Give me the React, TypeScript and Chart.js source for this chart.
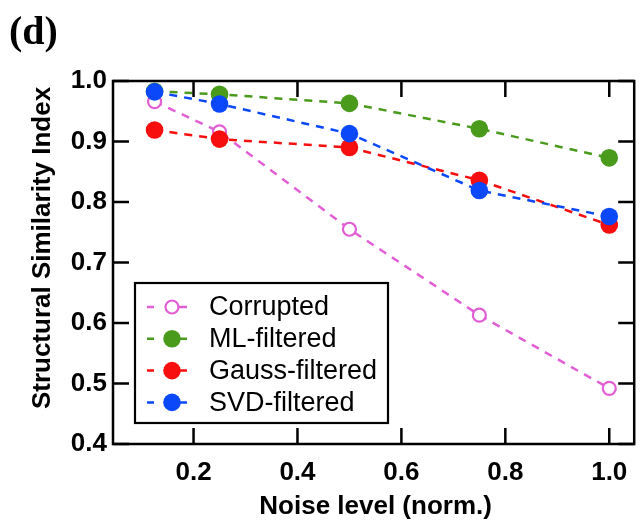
import React, { useEffect, useRef } from "react";
import { Chart, registerables } from "chart.js";

Chart.register(...registerables);

// Normalised noise levels at which each filter was evaluated
const noiseLevels = [0.125, 0.25, 0.5, 0.75, 1.0];

// Structural similarity index per series
const corrupted = [0.966, 0.916, 0.755, 0.613, 0.492];
const mlFiltered = [0.983, 0.978, 0.963, 0.921, 0.873];
const gaussFiltered = [0.919, 0.904, 0.89, 0.836, 0.762];
const svdFiltered = [0.982, 0.962, 0.913, 0.819, 0.776];

const seriesNames = ["Corrupted", "ML-filtered", "Gauss-filtered", "SVD-filtered"];
const seriesColors = ["#e25ed5", "#4a9a1c", "#f70f0f", "#0a48fa"];

const xTickValues = [0.2, 0.4, 0.6, 0.8, 1.0];
const yTickValues = [0.4, 0.5, 0.6, 0.7, 0.8, 0.9, 1.0];

const panelLabel = "(d)";
const xTitle = "Noise level (norm.)";
const yTitle = "Structural Similarity Index";

const SANS = '"Liberation Sans", Arial, sans-serif';
const SERIF = '"Liberation Serif", "Times New Roman", serif';
const TICK_LEN = 16;

const toPoints = (vals: number[]) => noiseLevels.map((x, i) => ({ x, y: vals[i] }));

// Box, mirrored inward tick marks, axis titles and panel label
const framePlugin = {
  id: "frame",
  afterDatasetsDraw(chart: any) {
    const { ctx, chartArea, scales } = chart;
    const { left, top, right, bottom } = chartArea;
    ctx.save();
    ctx.strokeStyle = "#000";
    ctx.lineWidth = 2.5;
    ctx.setLineDash([]);
    ctx.strokeRect(left, top, right - left, bottom - top);
    ctx.beginPath();
    for (const v of xTickValues) {
      const px = scales.x.getPixelForValue(v);
      ctx.moveTo(px, bottom);
      ctx.lineTo(px, bottom - TICK_LEN);
      ctx.moveTo(px, top);
      ctx.lineTo(px, top + TICK_LEN);
    }
    for (const v of yTickValues) {
      const py = scales.y.getPixelForValue(v);
      ctx.moveTo(left, py);
      ctx.lineTo(left + TICK_LEN, py);
      ctx.moveTo(right, py);
      ctx.lineTo(right - TICK_LEN, py);
    }
    ctx.stroke();
    ctx.restore();
  },
  afterDraw(chart: any) {
    const { ctx, chartArea } = chart;
    ctx.save();
    ctx.fillStyle = "#000";
    ctx.font = `bold 40px ${SERIF}`;
    ctx.textAlign = "left";
    ctx.textBaseline = "alphabetic";
    ctx.fillText(panelLabel, 9, 44);

    ctx.font = `bold 26px ${SANS}`;
    ctx.textAlign = "center";
    ctx.fillText(xTitle, (chartArea.left + chartArea.right) / 2 + 2, 514);

    ctx.translate(43, 248);
    ctx.rotate(-Math.PI / 2);
    ctx.textBaseline = "middle";
    ctx.fillText(yTitle, 0, 0);
    ctx.restore();
  },
};

// Boxed legend placed inside the plot area
const legendPlugin = {
  id: "innerLegend",
  afterDraw(chart: any) {
    const { ctx } = chart;
    const boxL = 135;
    const boxT = 283;
    const boxR = 388;
    const boxB = 423;
    const rowY0 = 307;
    const rowStep = 31.8;
    ctx.save();
    ctx.fillStyle = "#fff";
    ctx.fillRect(boxL, boxT, boxR - boxL, boxB - boxT);
    ctx.strokeStyle = "#000";
    ctx.lineWidth = 2.2;
    ctx.strokeRect(boxL, boxT, boxR - boxL, boxB - boxT);
    chart.data.datasets.forEach((ds: any, i: number) => {
      const y = rowY0 + i * rowStep;
      const cx = 172;
      ctx.strokeStyle = ds.borderColor;
      ctx.lineWidth = 2.5;
      ctx.setLineDash([]);
      ctx.beginPath();
      ctx.moveTo(147, y);
      ctx.lineTo(154, y);
      ctx.moveTo(cx, y);
      ctx.lineTo(187, y);
      ctx.stroke();
      ctx.beginPath();
      ctx.arc(cx, y, ds.pointRadius, 0, Math.PI * 2);
      ctx.fillStyle = ds.pointBackgroundColor;
      ctx.fill();
      if (ds.pointBorderWidth > 0) {
        ctx.lineWidth = ds.pointBorderWidth;
        ctx.strokeStyle = ds.pointBorderColor;
        ctx.stroke();
      }
      ctx.fillStyle = "#000";
      ctx.font = `27px ${SANS}`;
      ctx.textAlign = "left";
      ctx.textBaseline = "middle";
      ctx.fillText(ds.label, 209, y + 1);
    });
    ctx.restore();
  },
};

export default function App() {
  const canvasRef = useRef<HTMLCanvasElement | null>(null);

  useEffect(() => {
    if (!canvasRef.current) return;
    const dash = [8, 7];
    const filled = (i: number, vals: number[], order: number) => ({
      label: seriesNames[i],
      data: toPoints(vals),
      borderColor: seriesColors[i],
      backgroundColor: seriesColors[i],
      borderWidth: 2.5,
      borderDash: dash,
      pointRadius: 8.8,
      pointBorderWidth: 0,
      pointBorderColor: seriesColors[i],
      pointBackgroundColor: seriesColors[i],
      order,
    });
    const chart = new Chart(canvasRef.current, {
      type: "line",
      data: {
        datasets: [
          {
            label: seriesNames[0],
            data: toPoints(corrupted),
            borderColor: seriesColors[0],
            backgroundColor: "#fff",
            borderWidth: 2.5,
            borderDash: dash,
            pointRadius: 6.5,
            pointBorderWidth: 2.2,
            pointBorderColor: seriesColors[0],
            pointBackgroundColor: "#fff",
            order: 4,
          },
          filled(1, mlFiltered, 3),
          filled(2, gaussFiltered, 2),
          filled(3, svdFiltered, 1),
        ],
      },
      options: {
        responsive: false,
        animation: false,
        devicePixelRatio: 1,
        layout: { padding: { top: 81, right: 1.5, left: 0, bottom: 0 } },
        plugins: {
          legend: { display: false },
          title: { display: false },
          tooltip: { enabled: false },
        },
        scales: {
          x: {
            type: "linear",
            min: 0.045,
            max: 1.048,
            afterBuildTicks: (s: any) => {
              s.ticks = xTickValues.map((value) => ({ value }));
            },
            afterFit: (s: any) => {
              s.height = 80;
            },
            grid: { display: false, drawTicks: false },
            border: { display: false },
            ticks: {
              color: "#000",
              padding: 13,
              maxRotation: 0,
              autoSkip: false,
              font: { family: SANS, size: 26, weight: "bold" },
              callback: (v: any) => Number(v).toFixed(1),
            },
          },
          y: {
            type: "linear",
            min: 0.4,
            max: 1.0,
            afterBuildTicks: (s: any) => {
              s.ticks = yTickValues.map((value) => ({ value }));
            },
            afterFit: (s: any) => {
              s.width = 113;
            },
            grid: { display: false, drawTicks: false },
            border: { display: false },
            ticks: {
              color: "#000",
              padding: 6,
              autoSkip: false,
              font: { family: SANS, size: 26, weight: "bold" },
              callback: (v: any) => Number(v).toFixed(1),
            },
          },
        },
      },
      plugins: [framePlugin, legendPlugin],
    });
    return () => chart.destroy();
  }, []);

  return (
    <div style={{ position: "fixed", left: 0, top: 0, width: 643, height: 524, background: "#fff" }}>
      <canvas ref={canvasRef} width={643} height={524} />
    </div>
  );
}
